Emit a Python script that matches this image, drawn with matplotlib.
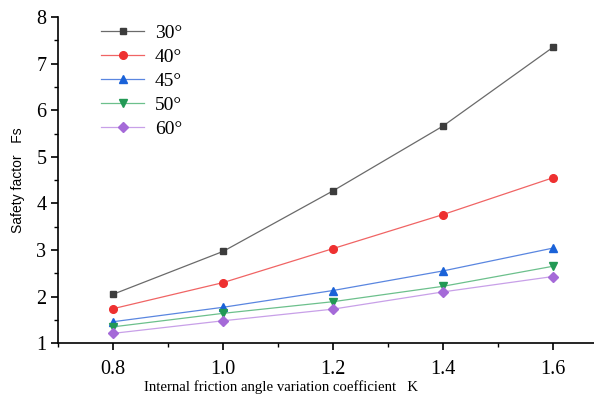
import matplotlib
matplotlib.use('Agg')

import matplotlib.pyplot as plt
from matplotlib.ticker import MultipleLocator

# data
k_values = [0.8, 1.0, 1.2, 1.4, 1.6]
labels = ["30°", "40°", "45°", "50°", "60°"]
fs_30 = [2.05, 2.97, 4.27, 5.66, 7.35]
fs_40 = [1.74, 2.30, 3.03, 3.76, 4.55]
fs_45 = [1.46, 1.77, 2.13, 2.55, 3.04]
fs_50 = [1.35, 1.64, 1.89, 2.22, 2.65]
fs_60 = [1.21, 1.48, 1.73, 2.10, 2.43]
x_ticks = [0.8, 1.0, 1.2, 1.4, 1.6]
x_tick_labels = ["0.8", "1.0", "1.2", "1.4", "1.6"]

series = [fs_30, fs_40, fs_45, fs_50, fs_60]
line_colors = ["#6a6a6a", "#f06464", "#5a86e0", "#6cc08c", "#c8a0e8"]
marker_colors = ["#3c3c3c", "#ee3030", "#1a62d8", "#229955", "#a56ad8"]
markers = ["s", "o", "^", "v", "D"]
msizes = [5, 5.5, 6, 6, 5]

plt.rcParams['font.family'] = ['Liberation Serif', 'DejaVu Serif']

fig = plt.figure(figsize=(5.94, 3.99), dpi=100)
ax = fig.add_axes([0.098, 0.14, 0.902, 0.817])

for vals, lab, lc, mc, m, ms in zip(series, labels, line_colors, marker_colors, markers, msizes):
    ax.plot(k_values, vals, color=lc, lw=0.9, marker=m, markersize=ms,
            markerfacecolor=mc, markeredgecolor=mc, label=lab)

ax.set_xlim(0.7, 1.675)
ax.set_ylim(1, 8)
ax.set_xticks(x_ticks)
ax.set_xticklabels(x_tick_labels)
ax.xaxis.set_minor_locator(MultipleLocator(0.1))
ax.yaxis.set_minor_locator(MultipleLocator(0.5))
ax.tick_params(axis='both', which='major', labelsize=14.5, length=5, width=1.2, direction='out')
ax.tick_params(axis='x', which='major', pad=7)
ax.tick_params(axis='both', which='minor', length=3, width=1.0, direction='out')

for s in ['top', 'right']:
    ax.spines[s].set_visible(False)
for s in ['left', 'bottom']:
    ax.spines[s].set_linewidth(1.2)

ax.set_xlabel("Internal friction angle variation coefficient   K", fontsize=10.6)
ax.xaxis.set_label_coords((281 - 58) / (594 - 58), -0.115)
ax.set_ylabel("Safety factor   Fs", fontsize=10, family=['Liberation Sans'], labelpad=8)

ax.legend(loc='upper left', bbox_to_anchor=(0.055, 1.02), frameon=False, fontsize=14,
          handlelength=2.2, handletextpad=0.55, labelspacing=0.33, borderaxespad=0.3)

fig.savefig("out.png", dpi=100)
